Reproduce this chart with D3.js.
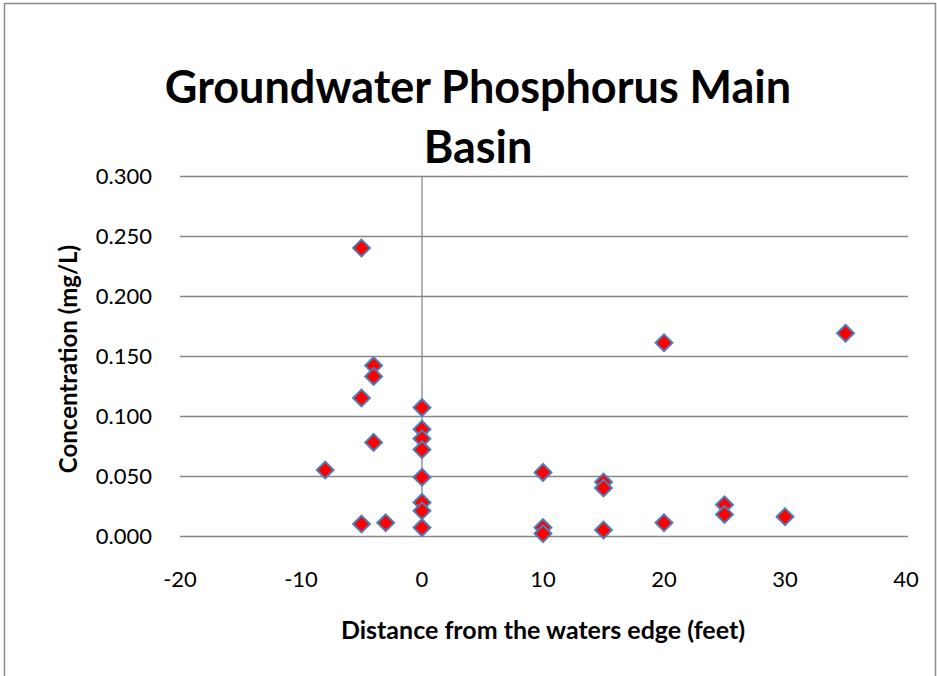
<html>
	<head>
		<meta content="text/html;charset=utf-8" http-equiv="Content-Type">
		<script src="https://d3js.org/d3.v7.min.js"></script>
		<style>
		body { margin: 0; background: white; }
		text { font-family: Lato, "Open Sans", sans-serif; fill: #000; }
		</style>
	</head>
	<body>
		<svg id="page"></svg>
		<script>

		// data
		var distance = [-5, -4, -4, -5, 0, 0, 0, 0, -4, -8, 0, 0, 0, -5, -3, 0,
		                20, 10, 15, 15, 25, 25, 20, 10, 10, 15, 30, 35];
		var phosphorus = [0.240, 0.142, 0.133, 0.115, 0.107, 0.089, 0.081, 0.072, 0.078, 0.055, 0.049, 0.028, 0.021, 0.010, 0.011, 0.007,
		                  0.161, 0.053, 0.045, 0.040, 0.026, 0.018, 0.011, 0.007, 0.002, 0.005, 0.016, 0.169];
		var xTicks = [-20, -10, 0, 10, 20, 30, 40];
		var yTicks = [0, 0.05, 0.10, 0.15, 0.20, 0.25, 0.30];

		var svg = d3.select("#page").attr("width", 937).attr("height", 676);

		// outer chart border
		svg.append("rect")
			.attr("x", 4.5).attr("y", 3.5)
			.attr("width", 931).attr("height", 700)
			.attr("fill", "white")
			.attr("stroke", "#8c8c8c")
			.attr("stroke-width", 1.5);

		var x = d3.scaleLinear().domain([-20, 40]).range([180, 906]);
		var y = d3.scaleLinear().domain([0, 0.3]).range([536, 176]);

		// horizontal gridlines
		svg.append("g")
			.attr("transform", "translate(180,0)")
			.call(d3.axisLeft(y).tickValues(yTicks).tickSize(-728).tickFormat(""))
			.call(function(g){
				g.select(".domain").remove();
				g.selectAll("line").attr("stroke", "#878787").attr("stroke-width", 1.3);
			});

		// vertical line at x = 0
		svg.append("line")
			.attr("x1", x(0)).attr("x2", x(0))
			.attr("y1", y(0.3)).attr("y2", y(0))
			.attr("stroke", "#878787").attr("stroke-width", 1.3);

		// y tick labels
		svg.append("g").selectAll("text")
			.data(yTicks).enter().append("text")
			.attr("x", 152)
			.attr("y", function(d){ return y(d) + 8; })
			.style("font-size", "22px")
			.style("text-anchor", "end")
			.text(function(d){ return d3.format(".3f")(d); });

		// x tick labels
		svg.append("g").selectAll("text")
			.data(xTicks).enter().append("text")
			.attr("x", function(d){ return x(d); })
			.attr("y", 587)
			.style("font-size", "22px")
			.style("text-anchor", "middle")
			.text(function(d){ return d; });

		// points
		var diamond = d3.symbol().type(d3.symbolDiamond2).size(180);
		svg.append("g").selectAll("path")
			.data(distance).enter().append("path")
			.attr("transform", function(d, i){ return "translate(" + x(d) + "," + y(phosphorus[i]) + ")"; })
			.attr("d", diamond)
			.attr("fill", "#ff0000")
			.attr("stroke", "#4a7ebb")
			.attr("stroke-width", 2);

		// titles
		svg.append("text")
			.attr("x", 478).attr("y", 103)
			.style("font-size", "45px").style("font-weight", 700)
			.style("text-anchor", "middle")
			.text("Groundwater Phosphorus Main");
		svg.append("text")
			.attr("x", 478).attr("y", 163)
			.style("font-size", "45px").style("font-weight", 700)
			.style("text-anchor", "middle")
			.text("Basin");

		svg.append("text")
			.attr("x", 543).attr("y", 639)
			.style("font-size", "25px").style("font-weight", 700)
			.style("text-anchor", "middle")
			.text("Distance from the waters edge (feet)");

		svg.append("text")
			.attr("transform", "translate(77,359) rotate(-90)")
			.style("font-size", "24px").style("font-weight", 700)
			.style("text-anchor", "middle")
			.text("Concentration (mg/L)");

		</script>
	</body>
</html>
